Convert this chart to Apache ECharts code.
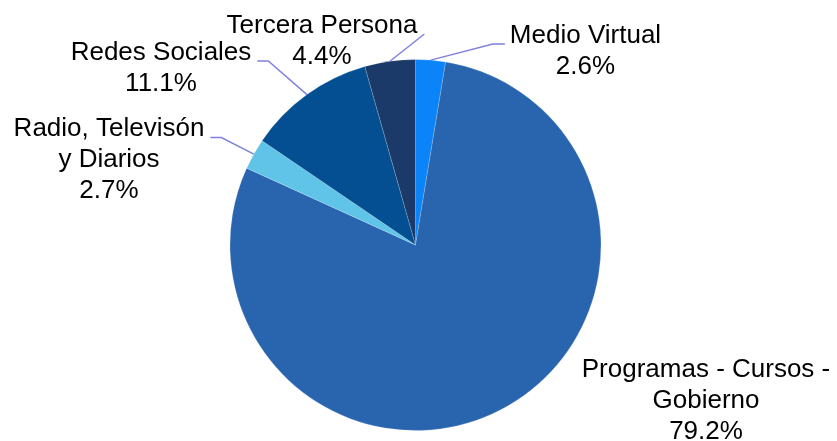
<!DOCTYPE html>
<html>
<head>
<meta charset="utf-8">
<script src="https://cdn.jsdelivr.net/npm/echarts@6/dist/echarts.min.js"></script>
<style>
  html, body { margin: 0; padding: 0; background: #fff; }
  #main { width: 837px; height: 441px; }
</style>
</head>
<body>
<div id="main"></div>
<script>
// data, clockwise from 12 o'clock
const categories = ['Medio Virtual', 'Programas - Cursos -\nGobierno', 'Radio, Televisón\ny Diarios', 'Redes Sociales', 'Tercera Persona'];
const values = [2.6, 79.2, 2.7, 11.1, 4.4];
const colors = ['#0b84fa', '#2964ae', '#5fc4e8', '#044f92', '#1b3a69'];

// label placement (centre of the text block) and which side the leader line attaches to
const labelPos = [[585.5, 51], [706, 401], [109, 160], [161, 68], [322, 41]];
const lineSide = ['left', null, 'right', 'right', 'right'];
const LH = 31;

let chartDom = document.getElementById('main'),
    myChart = echarts.init(chartDom),
    option;

option = {
    animation: false,
    series: [
        {
            type: 'pie',
            center: [415.5, 245],
            radius: 185.5,
            startAngle: 90,
            clockwise: true,
            percentPrecision: 1,
            itemStyle: {
                borderColor: 'rgba(255,255,255,0.35)',
                borderWidth: 0.5
            },
            label: {
                show: true,
                position: 'outside',
                formatter: '{b}\n{d}%',
                fontFamily: 'Liberation Sans, Arial, sans-serif',
                fontSize: 26,
                lineHeight: LH,
                color: '#000',
                align: 'center',
                overflow: 'none'
            },
            labelLine: {
                show: true,
                lineStyle: { color: '#8080e0', width: 1.5 }
            },
            labelLayout: function (params) {
                const i = params.dataIndex;
                const [cx, cy] = labelPos[i];
                const w = params.labelRect.width;
                const h = params.labelRect.height;
                const top = cy - h / 2;
                const res = { x: cx, y: cy, align: 'center', verticalAlign: 'middle' };
                const side = lineSide[i];
                if (side && params.labelLinePoints) {
                    const start = params.labelLinePoints[0];
                    const by = top + 24;
                    let end, elbow;
                    if (side === 'left') {
                        end = [cx - w / 2 - 5, by];
                        elbow = [end[0] - 12, by];
                    } else if (i === 4) {
                        end = [cx + w / 2 + 7, by];
                        elbow = [end[0], by];
                    } else {
                        end = [cx + w / 2 + 6, by];
                        elbow = [end[0] + 11, by];
                    }
                    res.labelLinePoints = [start, elbow, end];
                }
                return res;
            },
            data: categories.map((name, i) => ({
                name: name,
                value: values[i],
                itemStyle: { color: colors[i] },
                labelLine: { show: lineSide[i] != null }
            }))
        }
    ]
};

option && myChart.setOption(option);
</script>
</body>
</html>
